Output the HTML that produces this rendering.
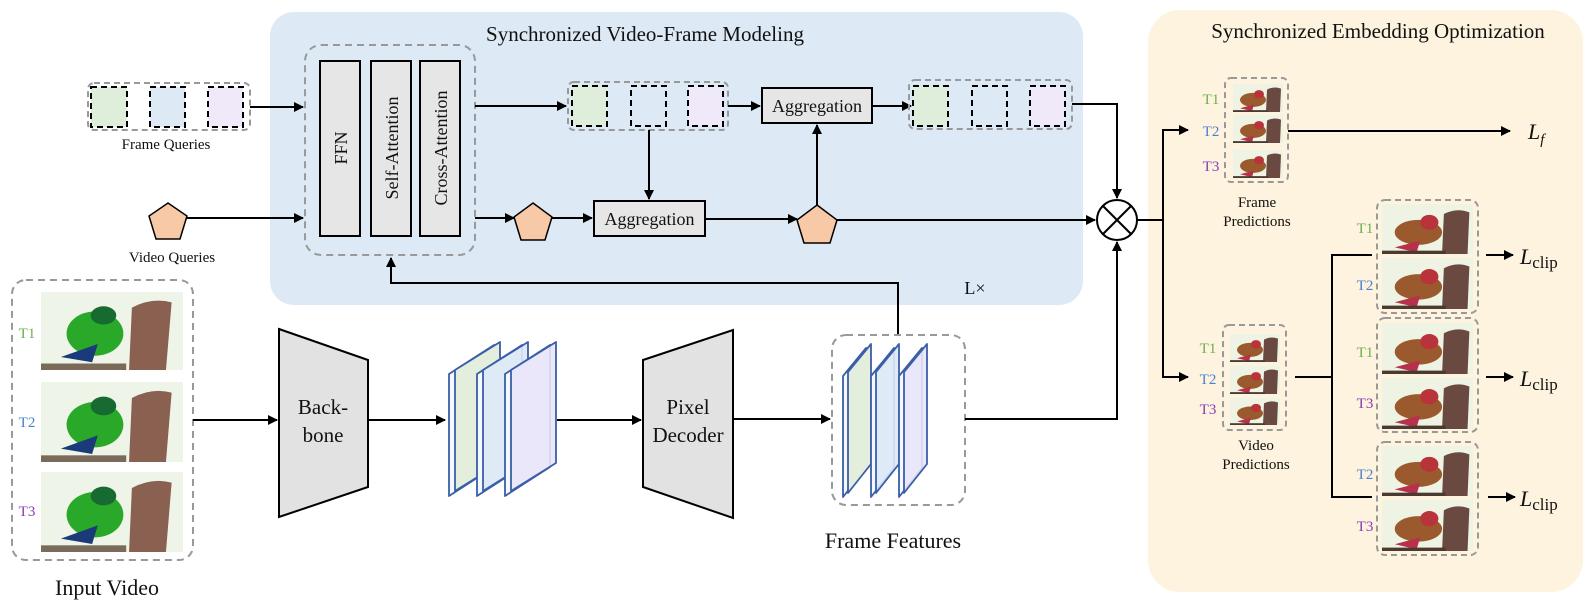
<!DOCTYPE html>
<html><head><meta charset="utf-8"><style>
html,body{margin:0;padding:0;background:#fff;}
svg{display:block;}
text{font-family:"Liberation Serif",serif;fill:#111;}
</style></head><body>
<svg width="1595" height="610" viewBox="0 0 1595 610" xmlns="http://www.w3.org/2000/svg">
<defs>
<marker id="ar" markerWidth="10" markerHeight="10" refX="9" refY="5" orient="auto" markerUnits="userSpaceOnUse">
<path d="M0,0 L10,5 L0,10 z" fill="#000"/></marker>
<symbol id="pg" viewBox="0 0 100 60" preserveAspectRatio="none">
<rect width="100" height="60" fill="#eef5e8"/>
<path d="M62,60 L64,12 Q78,4 92,8 L88,60 z" fill="#8a6050"/>
<ellipse cx="38" cy="32" rx="20" ry="17" fill="#2aa82a"/>
<ellipse cx="44" cy="18" rx="9" ry="7" fill="#176a30"/>
<path d="M14,50 L40,40 L36,54 z" fill="#1a3a7a"/>
<rect x="0" y="55" width="60" height="5" fill="#7a6a5a"/>
</symbol>
<symbol id="pr" viewBox="0 0 100 60" preserveAspectRatio="none">
<rect width="100" height="60" fill="#eef3e4"/>
<path d="M66,60 L68,12 Q82,4 96,10 L94,60 z" fill="#6a4a40"/>
<ellipse cx="40" cy="34" rx="26" ry="15" fill="#9a5a2e"/>
<ellipse cx="52" cy="22" rx="10" ry="9" fill="#b8343a"/>
<path d="M14,52 L42,44 L38,58 z" fill="#b8304a"/>
<rect x="0" y="56" width="70" height="4" fill="#4a3a30"/>
</symbol>
</defs>

<rect x="270" y="12" width="813" height="293" rx="24" fill="#dde9f5"/>
<rect x="1148" y="10" width="435" height="582" rx="32" fill="#fdf3de"/>
<text x="645" y="41" font-size="21" text-anchor="middle">Synchronized Video-Frame Modeling</text>
<text x="1378" y="38" font-size="21" text-anchor="middle">Synchronized Embedding Optimization</text>

<rect x="88" y="83" width="162" height="47" rx="6" fill="none" stroke="#999" stroke-width="2" stroke-dasharray="6,4"/>
<rect x="91" y="87" width="36" height="40" fill="#dfeedb" stroke="#000" stroke-width="2" stroke-dasharray="6,4"/>
<rect x="150" y="87" width="35" height="40" fill="#dde9f5" stroke="#000" stroke-width="2" stroke-dasharray="6,4"/>
<rect x="208" y="87" width="35" height="40" fill="#efe9fa" stroke="#000" stroke-width="2" stroke-dasharray="6,4"/>
<text x="166" y="149" font-size="15" text-anchor="middle">Frame Queries</text>
<line x1="250" y1="107" x2="303" y2="107" stroke="#000" stroke-width="2" marker-end="url(#ar)"/>

<polygon points="168,203 187,216 180,239 156,239 149,216" fill="#f7c9a6" stroke="#000" stroke-width="1.5"/>
<line x1="187" y1="218" x2="303" y2="218" stroke="#000" stroke-width="2" marker-end="url(#ar)"/>
<text x="172" y="262" font-size="15" text-anchor="middle">Video Queries</text>

<rect x="305" y="45" width="170" height="210" rx="16" fill="none" stroke="#999" stroke-width="2" stroke-dasharray="7,5"/>
<rect x="320" y="61" width="40" height="175" fill="#e6e6e6" stroke="#000" stroke-width="2"/>
<rect x="371" y="61" width="40" height="175" fill="#e6e6e6" stroke="#000" stroke-width="2"/>
<rect x="420" y="61" width="40" height="175" fill="#e6e6e6" stroke="#000" stroke-width="2"/>
<text transform="translate(347,148) rotate(-90)" font-size="18" text-anchor="middle">FFN</text>
<text transform="translate(398,148) rotate(-90)" font-size="18" text-anchor="middle">Self-Attention</text>
<text transform="translate(447,148) rotate(-90)" font-size="18" text-anchor="middle">Cross-Attention</text>

<line x1="475" y1="106" x2="566" y2="106" stroke="#000" stroke-width="2" marker-end="url(#ar)"/>
<line x1="475" y1="218" x2="514" y2="218" stroke="#000" stroke-width="2" marker-end="url(#ar)"/>

<rect x="568" y="82" width="160" height="48" rx="6" fill="none" stroke="#999" stroke-width="2" stroke-dasharray="6,4"/>
<rect x="572" y="86" width="35" height="40" fill="#dfeedb" stroke="#000" stroke-width="2" stroke-dasharray="6,4"/>
<rect x="631" y="86" width="35" height="40" fill="none" stroke="#000" stroke-width="2" stroke-dasharray="6,4"/>
<rect x="688" y="86" width="35" height="40" fill="#efe9fa" stroke="#000" stroke-width="2" stroke-dasharray="6,4"/>
<line x1="649" y1="130" x2="649" y2="199" stroke="#000" stroke-width="2" marker-end="url(#ar)"/>

<polygon points="533,203 552,217 545,240 521,240 514,217" fill="#f7c9a6" stroke="#000" stroke-width="1.5"/>
<line x1="552" y1="218" x2="592" y2="218" stroke="#000" stroke-width="2" marker-end="url(#ar)"/>
<rect x="594" y="201" width="111" height="35" fill="#e6e6e6" stroke="#000" stroke-width="2"/>
<text x="649.5" y="225" font-size="18" text-anchor="middle">Aggregation</text>
<line x1="705" y1="219" x2="797" y2="219" stroke="#000" stroke-width="2" marker-end="url(#ar)"/>

<polygon points="817,205 837,220 830,243 804,243 797,220" fill="#f7c9a6" stroke="#000" stroke-width="1.5"/>
<line x1="817" y1="205" x2="817" y2="125" stroke="#000" stroke-width="2" marker-end="url(#ar)"/>
<line x1="837" y1="220" x2="1095" y2="220" stroke="#000" stroke-width="2" marker-end="url(#ar)"/>

<line x1="728" y1="106" x2="760" y2="106" stroke="#000" stroke-width="2" marker-end="url(#ar)"/>
<rect x="762" y="88" width="110" height="35" fill="#e6e6e6" stroke="#000" stroke-width="2"/>
<text x="817" y="112" font-size="18" text-anchor="middle">Aggregation</text>
<line x1="872" y1="106" x2="911" y2="106" stroke="#000" stroke-width="2" marker-end="url(#ar)"/>

<rect x="909" y="80" width="163" height="49" rx="6" fill="none" stroke="#999" stroke-width="2" stroke-dasharray="6,4"/>
<rect x="913" y="86" width="35" height="40" fill="#dfeedb" stroke="#000" stroke-width="2" stroke-dasharray="6,4"/>
<rect x="972" y="86" width="35" height="40" fill="none" stroke="#000" stroke-width="2" stroke-dasharray="6,4"/>
<rect x="1030" y="86" width="35" height="40" fill="#efe9fa" stroke="#000" stroke-width="2" stroke-dasharray="6,4"/>
<polyline points="1072,104 1117,104 1117,198" fill="none" stroke="#000" stroke-width="2" marker-end="url(#ar)"/>

<circle cx="1117" cy="220" r="20" fill="#fff" stroke="#000" stroke-width="2"/>
<line x1="1103" y1="206" x2="1131" y2="234" stroke="#000" stroke-width="2"/>
<line x1="1131" y1="206" x2="1103" y2="234" stroke="#000" stroke-width="2"/>

<text x="975" y="294" font-size="18" text-anchor="middle">L×</text>

<polyline points="898,335 898,283 391,283 391,258" fill="none" stroke="#000" stroke-width="2" marker-end="url(#ar)"/>

<rect x="12" y="280" width="181" height="280" rx="14" fill="none" stroke="#999" stroke-width="2" stroke-dasharray="7,5"/>
<use href="#pg" x="41" y="292" width="142" height="78"/>
<use href="#pg" x="41" y="382" width="142" height="80"/>
<use href="#pg" x="41" y="472" width="142" height="80"/>
<text x="27" y="338" font-size="15" style="fill:#6ab04c" text-anchor="middle">T1</text>
<text x="27" y="427" font-size="15" style="fill:#4a7fd0" text-anchor="middle">T2</text>
<text x="27" y="516" font-size="15" style="fill:#8a3ab8" text-anchor="middle">T3</text>
<text x="107" y="595" font-size="22" text-anchor="middle">Input Video</text>

<line x1="193" y1="420" x2="277" y2="420" stroke="#000" stroke-width="2" marker-end="url(#ar)"/>
<polygon points="279,329 368,360 368,487 279,517" fill="#e2e2e2" stroke="#000" stroke-width="2"/>
<text x="323" y="414" font-size="21" text-anchor="middle">Back-</text>
<text x="323" y="442" font-size="21" text-anchor="middle">bone</text>
<line x1="368" y1="420" x2="445" y2="420" stroke="#000" stroke-width="2" marker-end="url(#ar)"/>

<!-- feature planes: back strip then face -->
<g stroke="#3a5ea8" stroke-width="1.8" stroke-linejoin="round">
<polygon points="449,374 494,345 494,467 449,496" fill="#f4f8ff"/>
<polygon points="455,370 500,342 500,463 455,491" fill="#e3efdc"/>
<polygon points="477,374 522,345 522,467 477,496" fill="#f4f8ff"/>
<polygon points="483,370 528,342 528,463 483,491" fill="#dce8f4" fill-opacity="0.9"/>
<polygon points="505,374 550,345 550,467 505,496" fill="#f4f8ff"/>
<polygon points="511,370 556,342 556,463 511,491" fill="#e8e4f8" fill-opacity="0.9"/>
</g>
<line x1="557" y1="420" x2="641" y2="420" stroke="#000" stroke-width="2" marker-end="url(#ar)"/>
<polygon points="643,360 733,330 733,518 643,487" fill="#e2e2e2" stroke="#000" stroke-width="2"/>
<text x="688" y="414" font-size="21" text-anchor="middle">Pixel</text>
<text x="688" y="442" font-size="21" text-anchor="middle">Decoder</text>
<line x1="733" y1="419" x2="830" y2="419" stroke="#000" stroke-width="2" marker-end="url(#ar)"/>

<rect x="832" y="335" width="133" height="170" rx="14" fill="none" stroke="#999" stroke-width="2" stroke-dasharray="7,5"/>
<g stroke="#3a5ea8" stroke-width="1.8" stroke-linejoin="round">
<polygon points="843,376 866,348 866,468 843,497" fill="#f4f8ff"/>
<polygon points="848,372 871,344 871,464 848,493" fill="#e3efdc"/>
<polygon points="871,376 894,348 894,468 871,497" fill="#f4f8ff"/>
<polygon points="876,372 899,344 899,464 876,493" fill="#dce8f4" fill-opacity="0.9"/>
<polygon points="899,376 922,348 922,468 899,497" fill="#f4f8ff"/>
<polygon points="904,372 927,344 927,464 904,493" fill="#e8e4f8" fill-opacity="0.9"/>
</g>
<text x="893" y="548" font-size="22" text-anchor="middle">Frame Features</text>
<polyline points="965,419 1117,419 1117,242" fill="none" stroke="#000" stroke-width="2" marker-end="url(#ar)"/>

<polyline points="1137,220 1163,220 1163,130 1188,130" fill="none" stroke="#000" stroke-width="2" marker-end="url(#ar)"/>
<polyline points="1163,220 1163,377 1188,377" fill="none" stroke="#000" stroke-width="2" marker-end="url(#ar)"/>

<rect x="1225" y="78" width="63" height="104" rx="6" fill="none" stroke="#999" stroke-width="2" stroke-dasharray="6,4"/>
<use href="#pr" x="1233" y="84" width="50" height="28"/>
<use href="#pr" x="1233" y="115" width="50" height="28"/>
<use href="#pr" x="1233" y="150" width="50" height="28"/>
<text x="1211" y="104" font-size="15" style="fill:#6ab04c" text-anchor="middle">T1</text>
<text x="1211" y="136" font-size="15" style="fill:#4a7fd0" text-anchor="middle">T2</text>
<text x="1211" y="171" font-size="15" style="fill:#8a3ab8" text-anchor="middle">T3</text>
<text x="1257" y="207" font-size="15" text-anchor="middle">Frame</text>
<text x="1257" y="226" font-size="15" text-anchor="middle">Predictions</text>
<line x1="1288" y1="131" x2="1510" y2="131" stroke="#000" stroke-width="2" marker-end="url(#ar)"/>
<text x="1528" y="139" font-size="22" font-style="italic">L<tspan font-size="15" dy="5">f</tspan></text>

<rect x="1223" y="325" width="63" height="105" rx="6" fill="none" stroke="#999" stroke-width="2" stroke-dasharray="6,4"/>
<use href="#pr" x="1230" y="334" width="50" height="28"/>
<use href="#pr" x="1230" y="366" width="50" height="28"/>
<use href="#pr" x="1230" y="398" width="50" height="27"/>
<text x="1208" y="353" font-size="15" style="fill:#6ab04c" text-anchor="middle">T1</text>
<text x="1208" y="384" font-size="15" style="fill:#4a7fd0" text-anchor="middle">T2</text>
<text x="1208" y="414" font-size="15" style="fill:#8a3ab8" text-anchor="middle">T3</text>
<text x="1256" y="450" font-size="15" text-anchor="middle">Video</text>
<text x="1256" y="469" font-size="15" text-anchor="middle">Predictions</text>

<polyline points="1295,377 1332,377" fill="none" stroke="#000" stroke-width="2"/>
<polyline points="1372,255 1332,255 1332,497 1372,497" fill="none" stroke="#000" stroke-width="2"/>

<rect x="1377" y="200" width="101" height="113" rx="8" fill="none" stroke="#999" stroke-width="2" stroke-dasharray="6,4"/>
<use href="#pr" x="1382" y="204" width="91" height="50"/>
<use href="#pr" x="1382" y="258" width="91" height="51"/>
<rect x="1377" y="318" width="101" height="114" rx="8" fill="none" stroke="#999" stroke-width="2" stroke-dasharray="6,4"/>
<use href="#pr" x="1382" y="323" width="91" height="51"/>
<use href="#pr" x="1382" y="378" width="91" height="51"/>
<rect x="1377" y="442" width="101" height="113" rx="8" fill="none" stroke="#999" stroke-width="2" stroke-dasharray="6,4"/>
<use href="#pr" x="1382" y="446" width="91" height="50"/>
<use href="#pr" x="1382" y="500" width="91" height="51"/>
<text x="1365" y="233" font-size="15" style="fill:#6ab04c" text-anchor="middle">T1</text>
<text x="1365" y="290" font-size="15" style="fill:#4a7fd0" text-anchor="middle">T2</text>
<text x="1365" y="357" font-size="15" style="fill:#6ab04c" text-anchor="middle">T1</text>
<text x="1365" y="408" font-size="15" style="fill:#8a3ab8" text-anchor="middle">T3</text>
<text x="1365" y="479" font-size="15" style="fill:#4a7fd0" text-anchor="middle">T2</text>
<text x="1365" y="531" font-size="15" style="fill:#8a3ab8" text-anchor="middle">T3</text>

<line x1="1486" y1="255" x2="1513" y2="255" stroke="#000" stroke-width="2" marker-end="url(#ar)"/>
<line x1="1486" y1="377" x2="1513" y2="377" stroke="#000" stroke-width="2" marker-end="url(#ar)"/>
<line x1="1488" y1="497" x2="1515" y2="497" stroke="#000" stroke-width="2" marker-end="url(#ar)"/>
<text x="1520" y="264" font-size="22"><tspan font-style="italic">L</tspan><tspan font-size="17" dy="4">clip</tspan></text>
<text x="1520" y="386" font-size="22"><tspan font-style="italic">L</tspan><tspan font-size="17" dy="4">clip</tspan></text>
<text x="1520" y="506" font-size="22"><tspan font-style="italic">L</tspan><tspan font-size="17" dy="4">clip</tspan></text>
</svg>
</body></html>
